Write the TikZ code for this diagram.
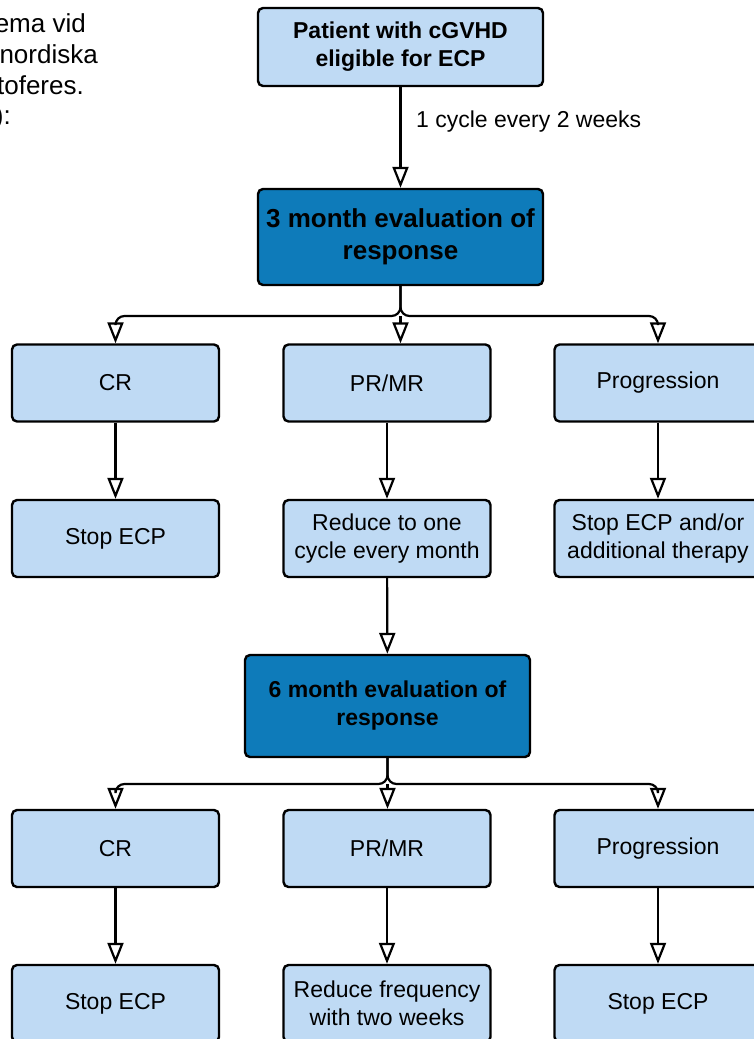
\documentclass[tikz,border=0pt]{standalone}
\usepackage{fontspec}
\setmainfont{Liberation Sans}
\usetikzlibrary{arrows.meta}
\definecolor{lightbox}{HTML}{BFDAF4}
\definecolor{darkbox}{HTML}{0E7BBA}
\tikzset{
	box/.style={draw=black, line width=2.4pt, rounded corners=5pt, fill=lightbox, align=center, font=\fontsize{23}{28}\selectfont, inner sep=0pt},
	evalbox/.style={box, fill=darkbox, font=\bfseries\fontsize{23}{28}\selectfont},
	arr/.style={line width=2.2pt, rounded corners=9pt, -{Triangle[open, length=21pt, width=16pt, line width=2.2pt]}},
	plain/.style={font=\fontsize{23}{28}\selectfont, inner sep=0pt},
	margin/.style={font=\fontsize{26}{30}\selectfont, inner sep=0pt, anchor=base east}
}
\begin{document}
\begin{tikzpicture}[x=1pt, y=-1pt]
		%%%%% START %%%%%
		\useasboundingbox[fill=white] (0, 0) rectangle (753, 1039);
		
		% cut-off text at the left margin
		\node[margin] (t1) at (86, 32) {ema vid};
		\node[margin] (t2) at (98, 63) {nordiska};
		\node[margin] (t3) at (84, 94) {toferes.};
		\node[margin] (t4) at (11, 124) {):};
		
		% start
		\node[box, font=\bfseries\fontsize{23}{28}\selectfont, minimum width=285, minimum height=78] (pat) at (400.5, 47) {Patient with cGVHD\\eligible for ECP};
		\node[evalbox, font=\bfseries\fontsize{26}{32}\selectfont, minimum width=285, minimum height=96] (m3) at (400.5, 237) {3 month evaluation of\\response};
		\draw[arr] (pat) -- (m3);
		\node[plain, anchor=west] (lbl) at (416, 122) {1 cycle every 2 weeks};
		
		% 3 months
		\node[box, minimum width=207, minimum height=77] (cr1) at (115.5, 383) {CR};
		\node[box, minimum width=207, minimum height=77] (pr1) at (387, 383) {PR/MR};
		\node[box, minimum width=207, minimum height=77] (pg1) at (658, 383) {Progression};
		\node[box, minimum width=207, minimum height=77] (st1) at (115.5, 538.5) {Stop ECP};
		\node[box, minimum width=207, minimum height=77] (rd1) at (387, 538.5) {Reduce to one\\cycle every month};
		\node[box, minimum width=207, minimum height=77] (ad1) at (658, 538.5) {Stop ECP and/or\\additional therapy};
		
		\coordinate (j3) at (400.5, 316);
		\draw[arr] (m3.south) -- (j3) -| (cr1.north);
		\draw[arr] (m3.south) -- (j3) -| (pg1.north);
		\draw[arr] (j3) -- (j3 |- pr1.north);
		\draw[arr] (cr1) -- (st1);
		\draw[arr] (pr1) -- (rd1);
		\draw[arr] (pg1) -- (ad1);
		
		% 6 months
		\node[evalbox, minimum width=285, minimum height=102] (m6) at (387.5, 706) {6 month evaluation of\\response};
		\draw[arr] (rd1) -- (m6);
		
		\node[box, minimum width=207, minimum height=77] (cr2) at (115.5, 848.5) {CR};
		\node[box, minimum width=207, minimum height=77] (pr2) at (387, 848.5) {PR/MR};
		\node[box, minimum width=207, minimum height=77] (pg2) at (658, 848.5) {Progression};
		\node[box, minimum width=207, minimum height=77] (st2) at (115.5, 1003.5) {Stop ECP};
		\node[box, minimum width=207, minimum height=77] (rd2) at (387, 1003.5) {Reduce frequency\\with two weeks};
		\node[box, minimum width=207, minimum height=77] (st3) at (658, 1003.5) {Stop ECP};
		
		\coordinate (j6) at (387.5, 784);
		\draw[arr] (m6.south) -- (j6) -| (cr2.north);
		\draw[arr] (m6.south) -- (j6) -| (pg2.north);
		\draw[arr] (j6) -- (j6 |- pr2.north);
		\draw[arr] (cr2) -- (st2);
		\draw[arr] (pr2) -- (rd2);
		\draw[arr] (pg2) -- (st3);
		
		%%%%% END %%%%%
	\end{tikzpicture}
\end{document}
